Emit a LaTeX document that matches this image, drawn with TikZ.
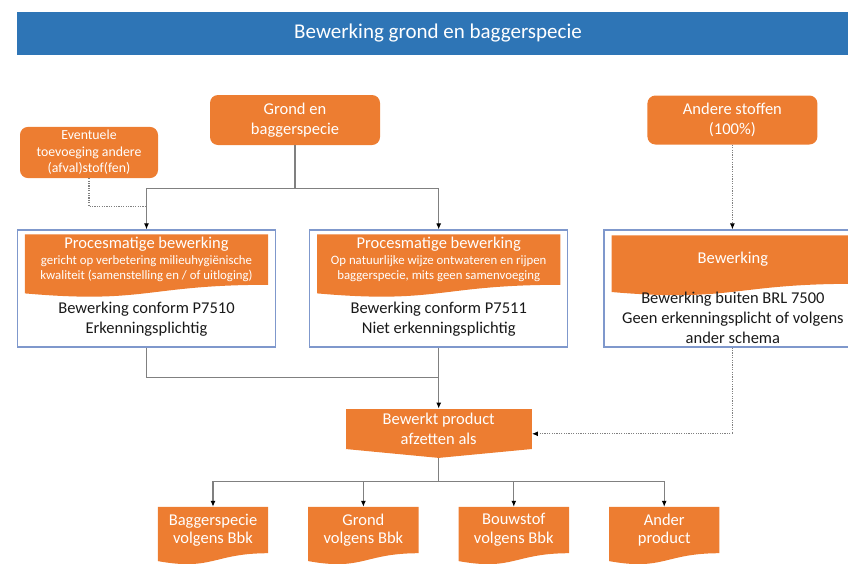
\documentclass[tikz,border=0pt]{standalone}
\usepackage{fontspec}
\setmainfont{Carlito}
\usetikzlibrary{positioning,calc,backgrounds,arrows.meta}

\definecolor{orng}{HTML}{ED7D31}
\definecolor{titleblue}{HTML}{2E75B6}
\definecolor{framecol}{HTML}{7F98CC}
\definecolor{linegray}{HTML}{808080}

\begin{document}
\begin{tikzpicture}[
    x=1pt, y=-1pt,
    node distance=40pt,
    headbar/.style={rectangle, fill=titleblue, text=white, minimum width=842pt, minimum height=43pt, font=\fontsize{21}{25}\selectfont},
    inbox/.style={rectangle, rounded corners=8pt, fill=orng, text=white, align=center, font=\fontsize{16.5}{20}\selectfont},
    frame/.style={rectangle, draw=framecol, line width=1.2pt, minimum width=258pt, minimum height=117pt},
    doc/.style={rectangle, text=white, align=center, inner sep=0pt},
    body/.style={align=center, text=black!90, font=\fontsize{16.5}{20}\selectfont},
    small/.style={font=\fontsize{12.8}{15.3}\selectfont},
    big/.style={font=\fontsize{16.5}{18.5}\selectfont},
    line/.style={draw=linegray, line width=1.1pt},
    arrow/.style={line, -{Latex[black,length=6pt,width=5pt]}},
    dotline/.style={line, dash pattern=on 1.2pt off 1.2pt},
    dotarrow/.style={dotline, -{Latex[black,length=6pt,width=5pt]}}
]
    \useasboundingbox (0,0) rectangle (848,563);

    \node[headbar] (title) at (438,33.5) {Bewerking grond en baggerspecie};

    % inputs
    \node[inbox, minimum width=170pt, minimum height=50pt] (grond) at (295,120) {Grond en\\baggerspecie};
    \node[inbox, minimum width=170pt, minimum height=49pt, right=267pt of grond] (andere) {Andere stoffen\\(100\%)};
    \node[inbox, minimum width=138pt, minimum height=51pt, font=\fontsize{13.8}{16.5}\selectfont] (extra) at (89,152.5) {Eventuele\\toevoeging andere\\(afval)stof(fen)};

    % process boxes
    \node[frame] (box1) at (146.5,288.5) {};
    \node[frame, right=33pt of box1] (box2) {};
    \node[frame, right=35pt of box2] (box3) {};

    \node[doc, small, minimum width=243pt, minimum height=50pt, below=5pt of box1.north] (ban1) {{\fontsize{16.5}{20}\selectfont Procesmatige bewerking}\\gericht op verbetering milieuhygiënische\\kwaliteit (samenstelling en / of uitloging)};
    \node[doc, small, minimum width=243pt, minimum height=50pt, below=5pt of box2.north] (ban2) {{\fontsize{16.5}{20}\selectfont Procesmatige bewerking}\\Op natuurlijke wijze ontwateren en rijpen\\baggerspecie, mits geen samenvoeging};
    \node[doc, big, minimum width=242pt, minimum height=48pt, below=6pt of box3.north] (ban3) {Bewerking};

    \node[body] (txt1) at ([yshift=-30.5pt]box1.center) {Bewerking conform P7510\\Erkenningsplichtig};
    \node[body] (txt2) at ([yshift=-30.5pt]box2.center) {Bewerking conform P7511\\Niet erkenningsplichtig};
    \node[body] (txt3) at ([yshift=-29.5pt]box3.center) {Bewerking buiten BRL 7500\\Geen erkenningsplicht of volgens\\ander schema};

    % output
    \node[inbox, rounded corners=0pt, minimum width=186pt, minimum height=40pt, below=61pt of box2] (bewerkt) {Bewerkt product\\afzetten als};

    \node[doc, big, minimum width=110pt, minimum height=46pt] (bagger) at (213,530) {Baggerspecie\\volgens Bbk};
    \node[doc, big, minimum width=110pt, minimum height=46pt, right=of bagger] (grondbbk) {Grond\\volgens Bbk};
    \node[doc, big, minimum width=110pt, minimum height=46pt, right=of grondbbk] (bouwstof) {Bouwstof\\volgens Bbk};
    \node[doc, big, minimum width=110pt, minimum height=46pt, right=of bouwstof] (ander) {Ander\\product};

    \begin{scope}[on background layer]
        \foreach \n in {ban1,ban2,ban3,bagger,grondbbk,bouwstof,ander}
            \fill[orng] (\n.north west) -- (\n.north east) -- (\n.south east)
                .. controls (\n.south) and ($(\n.south)!-0.385!(\n.north)$)
                .. ($(\n.south west)!-0.17!(\n.north west)$) -- cycle;
        \fill[orng] (bewerkt.south west) -- ($(bewerkt.south)!-0.22!(bewerkt.north)$) -- (bewerkt.south east) -- cycle;
    \end{scope}

    % connectors
    \draw[arrow] (grond.south) -- ++(0,43) -| (box1.north);
    \draw[arrow] (grond.south) -- ++(0,43) -| (box2.north);
    \draw[dotline] (extra.south) |- ([yshift=23pt]box1.north);
    \draw[dotarrow] (andere.south) -- (andere.south |- box3.north);
    \draw[line] (box1.south) |- ([yshift=31pt]bewerkt.north);
    \draw[arrow] (box2.south) -- (bewerkt.north);
    \draw[dotarrow] (box3.south) |- ([yshift=-5pt]bewerkt.east);
    \draw[line] ($(bewerkt.south)!-0.22!(bewerkt.north)$) -- ++(0,24) coordinate (bus);
    \foreach \n in {bagger,grondbbk,bouwstof,ander}
        \draw[arrow] (bus) -| (\n.north);
\end{tikzpicture}
\end{document}
